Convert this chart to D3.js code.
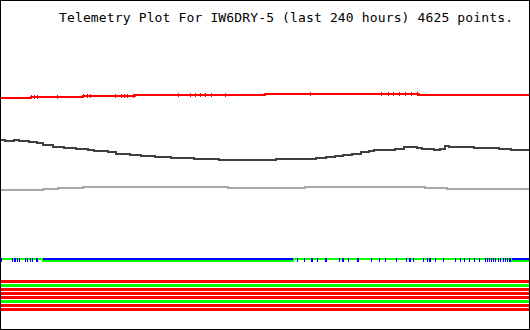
<!DOCTYPE html>
<html>
<head>
<meta charset="utf-8">
<script src="https://cdn.jsdelivr.net/npm/d3@7"></script>
<style>
  html, body { margin: 0; padding: 0; background: #fff; }
  svg { display: block; }
</style>
</head>
<body>
<div id="chart"></div>
<script>
const title = 'Telemetry Plot For IW6DRY-5 (last 240 hours) 4625 points.';
const hoursSpan = [0, 240];

// analog channels, [hour, raw value]
const redSeries = [[0, 231.5], [13.7, 232.2], [37.3, 233], [51.9, 233.5], [61, 234], [80.6, 234.5], [120.2, 235], [189.9, 234], [240, 234]];
const redTicks = [13.7, 15, 16.4, 25.5, 37.3, 39.2, 40.5, 51.9, 54.6, 56, 57.4, 60.1, 80.6, 86, 88.3, 90.6, 92.9, 95.6, 102, 140.3, 172.6, 175.8, 178, 180.8, 183.5, 186.3, 189];
const darkSeries = [
  [0, 189], [1.8, 188], [5.9, 189], [8.2, 188], [12.8, 187], [16.4, 186], [19.1, 184], [23.7, 182],
  [28.7, 181], [34.2, 180], [39.6, 179], [42.4, 178], [48.7, 177], [52.4, 175.5], [58.7, 174],
  [63.8, 173.5], [70.1, 172], [77.4, 171], [87.9, 170], [99.3, 169], [124.8, 170], [143, 171],
  [147.5, 172], [151.6, 173], [155.3, 174], [159.4, 175.5], [163.5, 177], [167.1, 178], [169.4, 179.5],
  [179, 180.5], [183.1, 182.5], [189, 181.5], [191.3, 180.5], [196.7, 179.5], [199.5, 180.5],
  [201.7, 183.5], [203.6, 182.5], [214.9, 181.5], [226.3, 180.5], [231.8, 179.5], [240, 179.5]
];
const lightSeries = [[0, 139], [19.1, 140], [26, 141], [37.3, 142], [103.4, 141], [138.4, 142], [192.6, 141], [202.7, 140], [240, 140]];

// green sits on top of blue except in the middle stretch
const greenSeries = [[0, 70], [19.1, 68], [132.5, 70], [232.3, 68], [240, 68]];
const blueSeries = [[19.1, 70], [132.5, 70], [null, null], [232.3, 70], [240, 70]];
const blueSpikes = [
  0.2, 5.2, 5.9, 6.3, 7.4, 8.4, 11.1, 12, 13.4, 14.3, 15.7, 16.2,
  134.5, 137.7, 140.9, 141.4, 143.7, 147.3, 147.8, 153.7, 155, 155.5, 157.8, 161.9, 162.4,
  168.2, 171.9, 174.6, 179.6, 184.2, 185.5, 186, 187.4, 191.9, 193.7, 194.4, 195.1, 197.4,
  201, 206.5, 208.8, 210.6, 212.9, 215.2, 217.4, 220.2, 220.7, 222, 222.5, 223.8, 224.7,
  226.1, 227, 228.4, 229.2, 230.2, 230.9, 231.5
];

// digital channels (bits), 1 = red, 0 = green
const bitValues = [1, 0, 1, 1, 1, 0, 1, 1];

const W = 530, H = 330;

let svg = d3.select('#chart').append('svg')
  .attr('width', W)
  .attr('height', H);

let x = d3.scaleLinear().domain(hoursSpan).range([1, 529]);
let y = d3.scaleLinear().domain([0, 255]).range([329, 74]);
let bitY = d3.scaleBand().domain(d3.range(bitValues.length)).range([279.5, 311.5])
  .paddingInner(0.25).paddingOuter(0.125);

let line = d3.line()
  .defined(d => d[0] != null)
  .x(d => x(d[0]))
  .y(d => y(d[1]))
  .curve(d3.curveStepAfter);

// value of a step series at hour h
let bisect = d3.bisector(d => d[0]).right;
function valueAt(series, h) {
  let i = Math.max(0, bisect(series, h) - 1);
  return series[i][1];
}

/* title */
svg.append('text')
  .attr('x', 59)
  .attr('y', 22)
  .attr('textLength', 454)
  .style('font-family', '"DejaVu Sans Mono", monospace')
  .style('font-size', '13px')
  .style('fill', '#000')
  .text(title);

let plot = svg.append('g').attr('class', 'plot').style('shape-rendering', 'crispEdges');

/* analog lines */
const lines = [
  {data: redSeries, color: '#ff0000'},
  {data: darkSeries, color: '#404040'},
  {data: lightSeries, color: '#a8a8a8'},
  {data: greenSeries, color: '#00ff00'},
  {data: blueSeries, color: '#0000ff'}
];
plot.selectAll('path.series')
  .data(lines)
  .join('path')
  .attr('class', 'series')
  .attr('d', d => line(d.data))
  .style('fill', 'none')
  .style('stroke', d => d.color)
  .style('stroke-width', 2);

/* small jitter notches on the red channel */
plot.selectAll('line.redtick')
  .data(redTicks)
  .join('line')
  .attr('class', 'redtick')
  .attr('x1', d => Math.round(x(d)) + 0.5)
  .attr('x2', d => Math.round(x(d)) + 0.5)
  .attr('y1', d => y(valueAt(redSeries, d)) - 2)
  .attr('y2', d => y(valueAt(redSeries, d)) + 2)
  .style('stroke', '#ff0000')
  .style('stroke-width', 1);

/* blue spikes poking through the green */
plot.selectAll('line.spike')
  .data(blueSpikes)
  .join('line')
  .attr('class', 'spike')
  .attr('x1', d => Math.round(x(d)) + 0.5)
  .attr('x2', d => Math.round(x(d)) + 0.5)
  .attr('y1', y(70) - 1)
  .attr('y2', y(68) + 1)
  .style('stroke', '#0000ff')
  .style('stroke-width', 1);

/* bit stripes */
plot.selectAll('rect.bit')
  .data(bitValues)
  .join('rect')
  .attr('class', 'bit')
  .attr('x', x(hoursSpan[0]))
  .attr('width', x(hoursSpan[1]) - x(hoursSpan[0]))
  .attr('y', (d, i) => bitY(i))
  .attr('height', bitY.bandwidth())
  .style('fill', d => d ? '#ff0000' : '#00ff00');

/* frame */
svg.append('rect')
  .attr('x', 0.5)
  .attr('y', 0.5)
  .attr('width', W - 1)
  .attr('height', H - 1)
  .style('fill', 'none')
  .style('stroke', '#000')
  .style('stroke-width', 1)
  .style('shape-rendering', 'crispEdges');
</script>
</body>
</html>
